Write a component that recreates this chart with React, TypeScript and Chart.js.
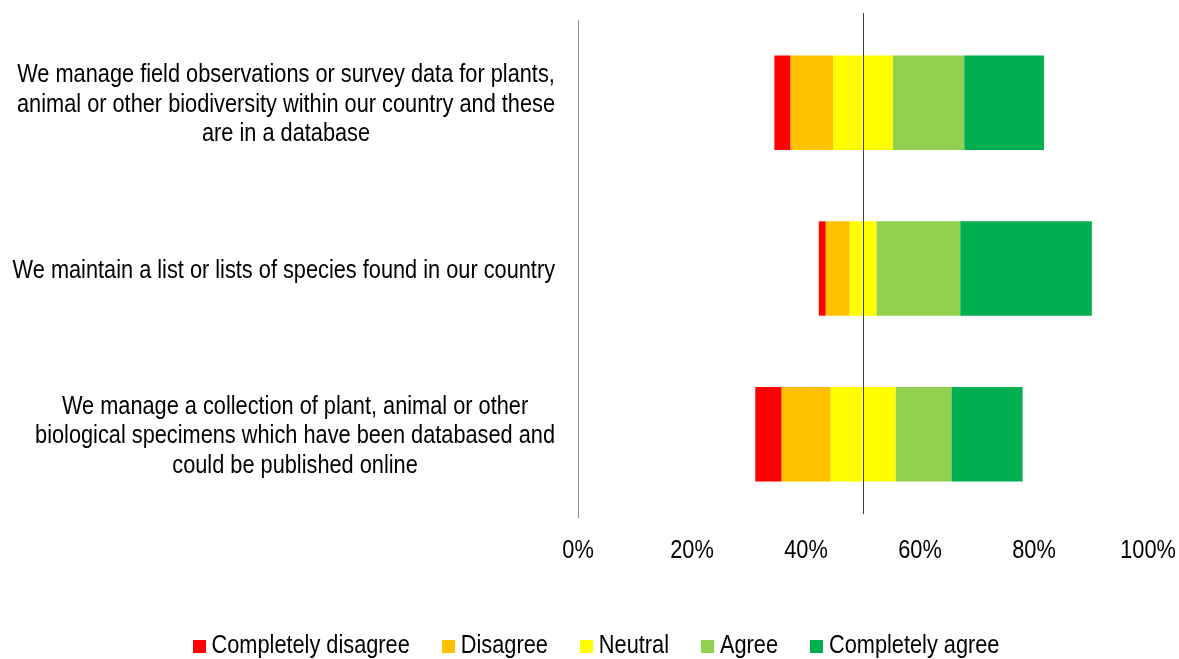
import React, { useEffect, useRef } from "react";
import { Chart, registerables } from "chart.js";

Chart.register(...registerables);

// Survey statements (one entry per line of the wrapped label)
const statements: string[][] = [
  [
    "We manage field observations or survey data for plants,",
    "animal or other biodiversity within our country and these",
    "are in a database",
  ],
  ["We maintain a list or lists of species found in our country"],
  [
    "We manage a collection of plant, animal or other",
    "biological specimens which have been databased and",
    "could be published online",
  ],
];

const responseLevels = [
  "Completely disagree",
  "Disagree",
  "Neutral",
  "Agree",
  "Completely agree",
];
const levelColors = ["#FF0000", "#FFC000", "#FFFF00", "#92D050", "#00B050"];

// Share of answers per level, one value per statement
const completelyDisagree = [2.8, 1.2, 4.6];
const disagree = [7.5, 4.2, 8.6];
const neutral = [10.5, 4.7, 11.4];
const agree = [12.5, 14.7, 9.8];
const completelyAgree = [14.0, 23.1, 12.5];

const axisMin = 0;
const axisMax = 100;
const axisStep = 20;
const midpoint = 50;

// Narrow sans: regular sans compressed horizontally
const FONT = "'Liberation Sans', Arial, sans-serif";
const FONT_SIZE = 25;
const NARROW = 0.87;

// Invisible lead-in so that each bar's neutral block is centred on the midpoint
const leadIn = statements.map(
  (_, i) => midpoint - completelyDisagree[i] - disagree[i] - neutral[i] / 2
);

const levelValues = [completelyDisagree, disagree, neutral, agree, completelyAgree];

function narrowWidth(ctx: CanvasRenderingContext2D, text: string) {
  return ctx.measureText(text).width * NARROW;
}

function narrowText(
  ctx: CanvasRenderingContext2D,
  text: string,
  x: number,
  y: number,
  align: CanvasTextAlign
) {
  ctx.save();
  ctx.translate(x, y);
  ctx.scale(NARROW, 1);
  ctx.textAlign = align;
  ctx.textBaseline = "alphabetic";
  ctx.fillText(text, 0, 0);
  ctx.restore();
}

const midlinePlugin = {
  id: "midline",
  afterDatasetsDraw(chart: any) {
    const { ctx, chartArea, scales } = chart;
    const x = Math.round(scales.x.getPixelForValue(midpoint)) + 0.5;
    ctx.save();
    ctx.strokeStyle = "#404040";
    ctx.lineWidth = 1;
    ctx.beginPath();
    ctx.moveTo(x, chartArea.top - 7);
    ctx.lineTo(x, chartArea.bottom - 3);
    ctx.stroke();
    ctx.restore();
  },
};

const textPlugin = {
  id: "narrowText",
  afterDraw(chart: any) {
    const { ctx, scales } = chart;
    ctx.save();
    ctx.font = `${FONT_SIZE}px ${FONT}`;
    ctx.fillStyle = "#000000";

    // statement labels: lines centred within their block, block right-aligned
    const rightEdge = 555;
    const lineGap = 29.5;
    statements.forEach((lines, i) => {
      const cy = scales.y.getPixelForValue(i);
      const blockWidth = Math.max(...lines.map((l) => narrowWidth(ctx, l)));
      const cx = rightEdge - blockWidth / 2;
      const firstCenter = cy - ((lines.length - 1) * lineGap) / 2;
      lines.forEach((line, j) => {
        narrowText(ctx, line, cx, firstCenter + j * lineGap + 9, "center");
      });
    });

    // x-axis tick labels
    const xs = scales.x;
    xs.ticks.forEach((t: any, i: number) => {
      narrowText(ctx, String(t.label), xs.getPixelForTick(i), 558, "center");
    });

    // legend
    const items = chart.data.datasets.filter((d: any) => d.showInKey);
    const box = 13;
    const boxGap = 6;
    const itemGap = 32;
    const centerX = 596;
    const boxTop = 640;
    const baseline = 653;
    const widths = items.map((d: any) => narrowWidth(ctx, d.label));
    const total =
      widths.reduce((a: number, w: number) => a + box + boxGap + w, 0) +
      itemGap * (items.length - 1);
    let x = centerX - total / 2;
    items.forEach((d: any, i: number) => {
      ctx.fillStyle = d.backgroundColor;
      ctx.fillRect(Math.round(x), boxTop, box, box);
      ctx.fillStyle = "#000000";
      narrowText(ctx, d.label, x + box + boxGap, baseline, "left");
      x += box + boxGap + widths[i] + itemGap;
    });
    ctx.restore();
  },
};

export default function App() {
  const canvasRef = useRef<HTMLCanvasElement | null>(null);

  useEffect(() => {
    document.body.style.margin = "0";
    const canvas = canvasRef.current;
    if (!canvas) return;

    const datasets: any[] = [
      {
        label: "",
        data: leadIn,
        backgroundColor: "rgba(0,0,0,0)",
        borderWidth: 0,
        showInKey: false,
      },
      ...responseLevels.map((name, k) => ({
        label: name,
        data: levelValues[k],
        backgroundColor: levelColors[k],
        borderWidth: 0,
        showInKey: true,
      })),
    ];

    const chart = new Chart(canvas, {
      type: "bar",
      data: {
        labels: statements.map((s) => s.join(" ")),
        datasets,
      },
      plugins: [midlinePlugin, textPlugin],
      options: {
        animation: false,
        responsive: false,
        indexAxis: "y",
        layout: { padding: { left: 578, right: 31, top: 20, bottom: 92 } },
        datasets: {
          bar: { categoryPercentage: 1, barPercentage: 0.57 },
        },
        plugins: {
          legend: { display: false },
          tooltip: { enabled: false },
          title: { display: false },
        },
        scales: {
          x: {
            stacked: true,
            min: axisMin,
            max: axisMax,
            grid: { display: false, drawTicks: false },
            border: { display: false },
            ticks: {
              display: false,
              stepSize: axisStep,
              callback: (v: any) => `${v}%`,
            },
            afterFit: (s: any) => {
              s.height = 50;
              s.paddingLeft = 0;
              s.paddingRight = 0;
            },
          },
          y: {
            stacked: true,
            grid: { display: false, drawTicks: false },
            border: { display: true, color: "#8C8C8C", width: 1 },
            ticks: { display: false },
            afterFit: (s: any) => {
              s.width = 0;
              s.paddingTop = 0;
              s.paddingBottom = 0;
            },
          },
        },
      } as any,
    });

    return () => chart.destroy();
  }, []);

  return (
    <div style={{ position: "absolute", left: 0, top: 0, width: 1179, height: 659 }}>
      <canvas ref={canvasRef} width={1179} height={659} />
    </div>
  );
}
